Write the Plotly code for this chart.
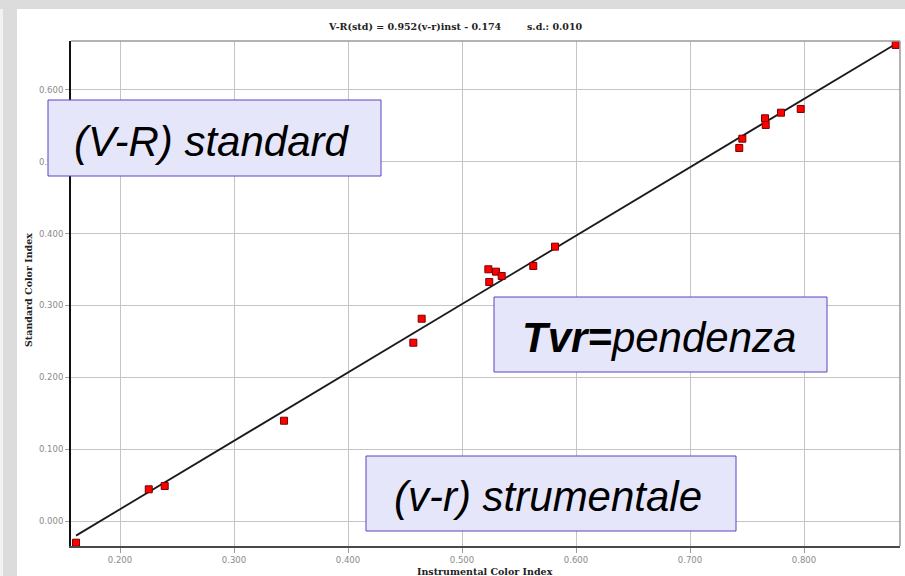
import plotly.graph_objects as go

# ---------------- data ----------------
inst_color = [0.1614, 0.2252, 0.2392, 0.3439, 0.4573, 0.4646, 0.5231, 0.5239, 0.5298, 0.5348,
              0.5625, 0.5816, 0.7432, 0.7459, 0.7658, 0.7664, 0.7798, 0.7971, 0.8804]
std_color = [-0.0302, 0.0441, 0.0487, 0.1396, 0.2482, 0.2816, 0.3504, 0.3327, 0.3471, 0.3411,
             0.3550, 0.3819, 0.5193, 0.5322, 0.5606, 0.5513, 0.5684, 0.5736, 0.6627]
slope = 0.952
intercept = -0.174
sd = 0.010
x_ticks = [0.2, 0.3, 0.4, 0.5, 0.6, 0.7, 0.8]
y_ticks = [0.0, 0.1, 0.2, 0.3, 0.4, 0.5, 0.6]

# ---------------- layout geometry ----------------
W, H = 905, 576
L, R, T, B = 71, 900, 41, 546


def px(x):
    return (x - L) / (R - L)


def py(y):
    return (B - y) / (B - T)


fit_x = [min(inst_color), max(inst_color)]
fit_y = [slope * v + intercept for v in fit_x]

fig = go.Figure()
fig.add_trace(go.Scatter(x=fit_x, y=fit_y, mode="lines",
                         line=dict(color="#1a1a1a", width=1.8), hoverinfo="skip"))
fig.add_trace(go.Scatter(x=inst_color, y=std_color, mode="markers",
                         marker=dict(symbol="square", size=7, color="#ff0000",
                                     line=dict(color="#7a0000", width=1))))

tickfont = dict(family="DejaVu Sans", size=8.5, color="#8a8a8a")
fig.update_xaxes(range=[0.157, 0.8842], tickvals=x_ticks,
                 ticktext=[f"{v:.3f}" for v in x_ticks],
                 showgrid=True, gridcolor="#c4c4c4", gridwidth=1, zeroline=False,
                 showline=True, linecolor="#4a4a4a", linewidth=2,
                 ticks="outside", ticklen=5, tickcolor="#9a9a9a", tickfont=tickfont)
fig.update_yaxes(range=[-0.0348, 0.6682], tickvals=y_ticks,
                 ticktext=[f"{v:.3f}" for v in y_ticks],
                 showgrid=True, gridcolor="#c4c4c4", gridwidth=1, zeroline=False,
                 showline=True, linecolor="#111111", linewidth=2,
                 ticks="outside", ticklen=4, tickcolor="#9a9a9a", tickfont=tickfont)

shapes = [
    # white panel over the grey page
    dict(type="rect", xref="paper", yref="paper", x0=px(17), x1=px(906), y0=py(9), y1=py(577),
         fillcolor="white", line=dict(width=0), layer="below"),
    dict(type="rect", xref="paper", yref="paper", x0=px(-1), x1=px(3), y0=py(9), y1=py(577),
         fillcolor="#f2f2f2", line=dict(width=0), layer="below"),
    # top and right frame
    dict(type="line", xref="paper", yref="paper", x0=0, x1=1, y0=1, y1=1,
         line=dict(color="#9a9a9a", width=1.5)),
    dict(type="line", xref="paper", yref="paper", x0=1, x1=1, y0=0, y1=1,
         line=dict(color="#9a9a9a", width=1.5)),
]

box_fill = "#e6e6fb"
box_line = "#5a44c0"
boxes = [(48, 100, 381, 176), (494, 297, 827, 372), (366, 456, 736, 531)]
for (x0, y0, x1, y1) in boxes:
    shapes.append(dict(type="rect", xref="paper", yref="paper",
                       x0=px(x0), x1=px(x1), y0=py(y1), y1=py(y0),
                       fillcolor=box_fill, line=dict(color=box_line, width=1), layer="above"))

big = dict(family="Liberation Sans, Arial", size=42, color="black")
title_font = dict(family="DejaVu Serif", size=9.5, color="#222222")
annotations = [
    dict(text="<i>(V-R) standard</i>", x=px(212), y=py(142), xref="paper", yref="paper",
         showarrow=False, font=big, xanchor="center", yanchor="middle"),
    dict(text="<i><b>Tvr=</b>pendenza</i>", x=px(659), y=py(337), xref="paper", yref="paper",
         showarrow=False, font=big, xanchor="center", yanchor="middle"),
    dict(text="<i>(v-r) strumentale</i>", x=px(548), y=py(496), xref="paper", yref="paper",
         showarrow=False, font=big, xanchor="center", yanchor="middle"),
    dict(text=f"<b>V-R(std) = {slope:.3f}(v-r)inst - {abs(intercept):.3f}</b>",
         x=px(326), y=py(27), xref="paper", yref="paper", showarrow=False,
         font=title_font, xanchor="left", yanchor="middle"),
    dict(text=f"<b>s.d.: {sd:.3f}</b>", x=px(525), y=py(27), xref="paper", yref="paper",
         showarrow=False, font=title_font, xanchor="left", yanchor="middle"),
    dict(text="<b>Instrumental Color Index</b>", x=px(485), y=py(571), xref="paper", yref="paper",
         showarrow=False, font=title_font, xanchor="center", yanchor="middle"),
    dict(text="<b>Standard Color Index</b>", x=px(28), y=py(290), xref="paper", yref="paper",
         showarrow=False, font=title_font, xanchor="center", yanchor="middle", textangle=-90),
]

fig.update_layout(width=W, height=H, margin=dict(l=L, r=W - R, t=T, b=H - B),
                  paper_bgcolor="#dcdcdc", plot_bgcolor="white", showlegend=False,
                  shapes=shapes, annotations=annotations)

fig.write_html("out.html", config={"displayModeBar": False},
               post_script="document.body.style.margin='0';document.body.style.overflow='hidden';")
